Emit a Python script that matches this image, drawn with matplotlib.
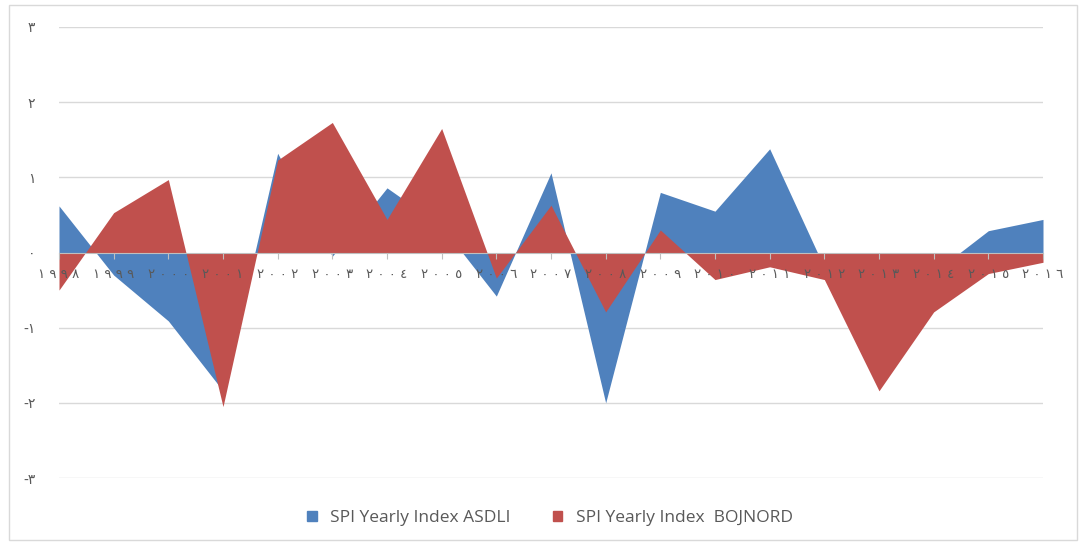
import matplotlib.pyplot as plt
import numpy as np
from matplotlib.patches import Rectangle, Patch

# Arabic-Indic digits used by the original labels
years = ["١٩٩٨", "١٩٩٩", "٢٠٠٠", "٢٠٠١", "٢٠٠٢", "٢٠٠٣", "٢٠٠٤", "٢٠٠٥", "٢٠٠٦", "٢٠٠٧",
         "٢٠٠٨", "٢٠٠٩", "٢٠١٠", "٢٠١١", "٢٠١٢", "٢٠١٣", "٢٠١٤", "٢٠١٥", "٢٠١٦"]

asdli = [0.62, -0.30, -0.91, -1.84, 1.32, -0.05, 0.86, 0.35, -0.58, 1.06,
         -2.00, 0.80, 0.55, 1.38, -0.20, -0.60, -0.27, 0.29, 0.44]

bojnord = [-0.50, 0.53, 0.97, -2.05, 1.23, 1.73, 0.44, 1.65, -0.34, 0.63,
           -0.79, 0.30, -0.36, -0.19, -0.36, -1.84, -0.79, -0.28, -0.13]

y_ticks = [-3, -2, -1, 0, 1, 2, 3]
y_labels = ["-٣", "-٢", "-١", "٠", "١", "٢", "٣"]

blue = "#4F81BD"
red = "#C0504D"
txt = "#595959"
grid = "#D9D9D9"

fig = plt.figure(figsize=(10.81, 5.45), dpi=100)
ax = fig.add_axes([59/1081, 1-478/545, (1043-59)/1081, (478-27)/545])

x = np.arange(len(years))
ax.fill_between(x, 0, asdli, color=blue, linewidth=0, zorder=2)
ax.fill_between(x, 0, bojnord, color=red, linewidth=0, zorder=3)

ax.set_xlim(0, len(years)-1)
ax.set_ylim(-3, 3)

ax.set_yticks(y_ticks)
ax.set_yticklabels(y_labels, family=["DejaVu Sans"], fontsize=10, color=txt)
ax.tick_params(axis="y", length=0, pad=17)
for v in y_ticks:
    if v != 0:
        ax.axhline(v, color=grid, linewidth=1, zorder=1)

for s in ["top", "right", "left"]:
    ax.spines[s].set_visible(False)
ax.spines["bottom"].set_position(("data", 0))
ax.spines["bottom"].set_color("#BFBFBF")
ax.spines["bottom"].set_zorder(4)

# spaced digits like the original
ax.set_xticks(x)
ax.set_xticklabels([" ".join(y) for y in years], family=["DejaVu Sans"], fontsize=9.5, color=txt)
ax.tick_params(axis="x", length=4, color="#BFBFBF", pad=7)
ax.xaxis.set_zorder(5)

handles = [Patch(color=blue), Patch(color=red)]
fig.legend(handles, ["SPI Yearly Index ASDLI", "SPI Yearly Index  BOJNORD"],
           loc="center", bbox_to_anchor=(550/1081, 1-518/545), ncol=2, frameon=False,
           prop={"family": "Open Sans", "size": 12.5}, labelcolor=txt,
           handlelength=0.55, handleheight=0.55, columnspacing=2.4, handletextpad=0.8)

fig.add_artist(Rectangle((9/1081, 5/545), 1068/1081, 535/545, transform=fig.transFigure,
                         fill=False, edgecolor=grid, linewidth=1))

fig.savefig("out.png", dpi=100)
